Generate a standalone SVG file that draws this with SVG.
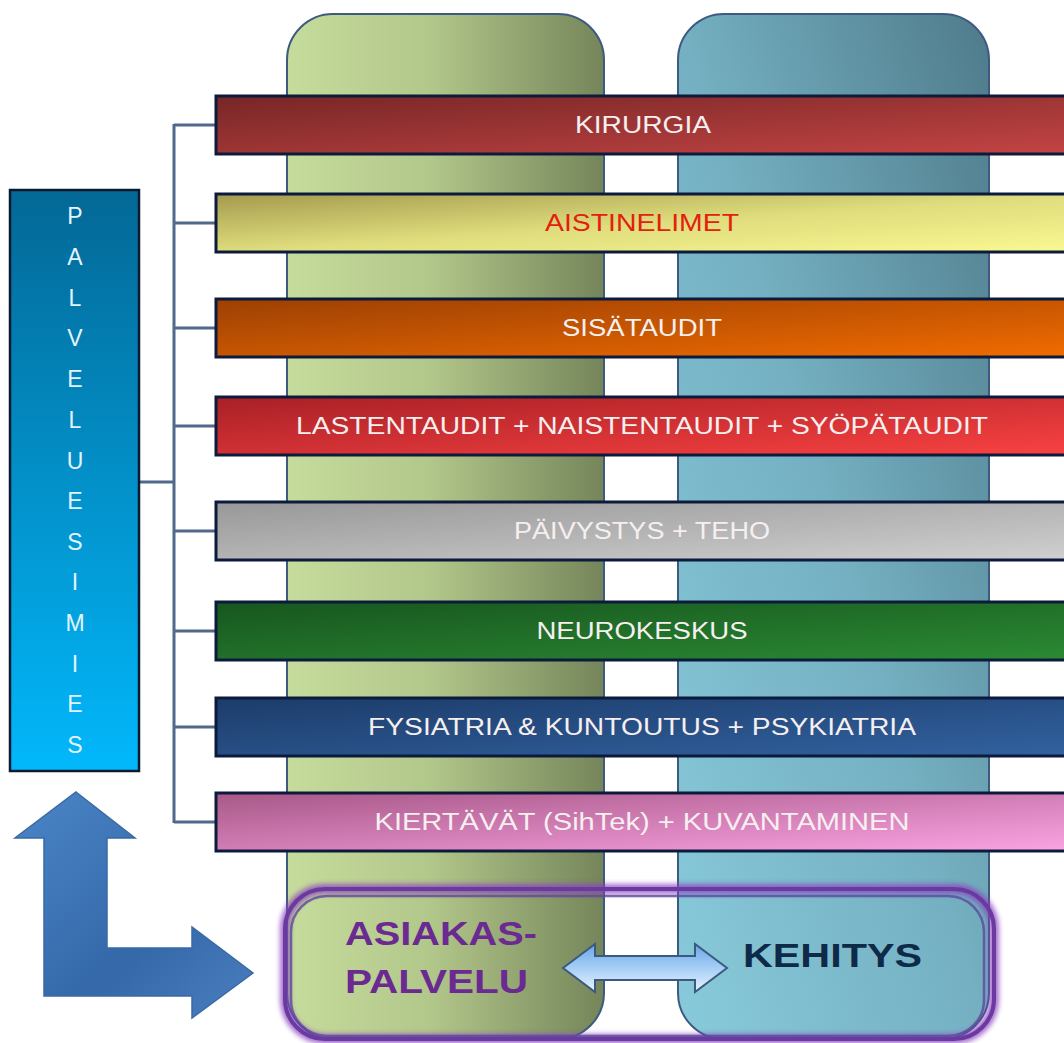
<svg xmlns="http://www.w3.org/2000/svg" width="1064" height="1043" viewBox="0 0 1064 1043">
<defs>
<linearGradient id="gGreen" x1="0" y1="0" x2="1" y2="0">
<stop offset="0" stop-color="#c6dc9c"/><stop offset="0.45" stop-color="#b2c78a"/><stop offset="1" stop-color="#75855a"/>
</linearGradient>
<linearGradient id="gBlue" x1="0" y1="1" x2="1" y2="0">
<stop offset="0" stop-color="#88cadb"/><stop offset="0.5" stop-color="#74b0c1"/><stop offset="1" stop-color="#4f7b8b"/>
</linearGradient>
<linearGradient id="gBox" x1="0" y1="0" x2="0" y2="1">
<stop offset="0" stop-color="#036896"/><stop offset="1" stop-color="#02b8fb"/>
</linearGradient>
<linearGradient id="g1" x1="0" y1="0" x2="1" y2="1"><stop offset="0" stop-color="#772626"/><stop offset="1" stop-color="#c44444"/></linearGradient>
<linearGradient id="g2" x1="0" y1="0" x2="1" y2="1"><stop offset="0" stop-color="#a49a4e"/><stop offset="0.5" stop-color="#dedc7c"/><stop offset="1" stop-color="#fbf992"/></linearGradient>
<linearGradient id="g3" x1="0" y1="0" x2="1" y2="1"><stop offset="0" stop-color="#9c4004"/><stop offset="1" stop-color="#f26c00"/></linearGradient>
<linearGradient id="g4" x1="0" y1="0" x2="1" y2="1"><stop offset="0" stop-color="#a82026"/><stop offset="1" stop-color="#fa4242"/></linearGradient>
<linearGradient id="g5" x1="0" y1="0" x2="1" y2="1"><stop offset="0" stop-color="#989898"/><stop offset="1" stop-color="#d0d0d0"/></linearGradient>
<linearGradient id="g6" x1="0" y1="0" x2="1" y2="1"><stop offset="0" stop-color="#17561f"/><stop offset="1" stop-color="#2b8a33"/></linearGradient>
<linearGradient id="g7" x1="0" y1="0" x2="1" y2="1"><stop offset="0" stop-color="#1c3c6a"/><stop offset="1" stop-color="#3262a0"/></linearGradient>
<linearGradient id="g8" x1="0" y1="0" x2="1" y2="1"><stop offset="0" stop-color="#a85888"/><stop offset="1" stop-color="#fca4e4"/></linearGradient>
<linearGradient id="gArrow" x1="0" y1="0" x2="1" y2="1">
<stop offset="0" stop-color="#4b86c8"/><stop offset="0.6" stop-color="#3468a8"/><stop offset="1" stop-color="#4a7ebe"/>
</linearGradient>
<linearGradient id="gDbl" x1="0" y1="0" x2="0" y2="1">
<stop offset="0" stop-color="#6aa6e6"/><stop offset="0.5" stop-color="#a6cef6"/><stop offset="1" stop-color="#eaf4fe"/>
</linearGradient>
<filter id="glow" x="-5%" y="-10%" width="110%" height="120%">
<feGaussianBlur stdDeviation="2.5"/>
</filter>
<style>
.col{stroke:#3d5b80;stroke-width:2}
.bar{stroke:#0c1a3c;stroke-width:3}
.lbl{font-family:"Liberation Sans",Arial,sans-serif;font-size:23px;fill:#f6efef;text-anchor:middle}
.conn{fill:none;stroke:#51698a;stroke-width:3}
.vt{font-family:"Liberation Sans",Arial,sans-serif;font-size:23px;fill:#e2f4ff;text-anchor:middle}
.big{font-family:"Liberation Sans",Arial,sans-serif;font-size:34px;font-weight:bold}
</style>
</defs>
<rect width="1064" height="1043" fill="#ffffff"/>

<g id="col-green"><rect class="col" x="287" y="14" width="317" height="1025" rx="46" fill="url(#gGreen)"/></g>
<g id="col-blue"><rect class="col" x="678" y="14" width="311" height="1025" rx="46" fill="url(#gBlue)"/></g>

<g id="connectors">
<path class="conn" d="M139,482 H174 M174,124 V823 M174,125 H216 M174,223 H216 M174,328 H216 M174,426 H216 M174,531 H216 M174,631 H216 M174,727 H216 M174,822 H216"/>
</g>

<g id="palveluesimies">
<rect x="10" y="190" width="129" height="581" fill="url(#gBox)" stroke="#0c1a30" stroke-width="2.5"/>
<text class="vt" x="75" y="224">P</text>
<text class="vt" x="75" y="265">A</text>
<text class="vt" x="75" y="306">L</text>
<text class="vt" x="75" y="346">V</text>
<text class="vt" x="75" y="387">E</text>
<text class="vt" x="75" y="428">L</text>
<text class="vt" x="75" y="469">U</text>
<text class="vt" x="75" y="509">E</text>
<text class="vt" x="75" y="550">S</text>
<text class="vt" x="75" y="590">I</text>
<text class="vt" x="75" y="631">M</text>
<text class="vt" x="75" y="672">I</text>
<text class="vt" x="75" y="712">E</text>
<text class="vt" x="75" y="753">S</text>
</g>

<g id="kirurgia"><rect class="bar" x="216" y="96" width="860" height="58" fill="url(#g1)"/><text class="lbl" x="643" y="133" textLength="136" lengthAdjust="spacingAndGlyphs">KIRURGIA</text></g>
<g id="aistinelimet"><rect class="bar" x="216" y="194" width="860" height="58" fill="url(#g2)"/><text class="lbl" x="642" y="231" style="fill:#e4200e" textLength="194" lengthAdjust="spacingAndGlyphs">AISTINELIMET</text></g>
<g id="sisataudit"><rect class="bar" x="216" y="299" width="860" height="58" fill="url(#g3)"/><text class="lbl" x="642" y="336" textLength="160" lengthAdjust="spacingAndGlyphs">SISÄTAUDIT</text></g>
<g id="lastentaudit"><rect class="bar" x="216" y="397" width="860" height="58" fill="url(#g4)"/><text class="lbl" x="642" y="434" textLength="692" lengthAdjust="spacingAndGlyphs">LASTENTAUDIT + NAISTENTAUDIT + SYÖPÄTAUDIT</text></g>
<g id="paivystys"><rect class="bar" x="216" y="502" width="860" height="58" fill="url(#g5)"/><text class="lbl" x="642" y="539" textLength="256" lengthAdjust="spacingAndGlyphs">PÄIVYSTYS + TEHO</text></g>
<g id="neurokeskus"><rect class="bar" x="216" y="602" width="860" height="58" fill="url(#g6)"/><text class="lbl" x="642" y="639" textLength="211" lengthAdjust="spacingAndGlyphs">NEUROKESKUS</text></g>
<g id="fysiatria"><rect class="bar" x="216" y="698" width="860" height="58" fill="url(#g7)"/><text class="lbl" x="642" y="735" textLength="548" lengthAdjust="spacingAndGlyphs">FYSIATRIA &amp; KUNTOUTUS + PSYKIATRIA</text></g>
<g id="kiertavat"><rect class="bar" x="216" y="793" width="860" height="58" fill="url(#g8)"/><text class="lbl" x="642" y="830" textLength="535" lengthAdjust="spacingAndGlyphs">KIERTÄVÄT (SihTek) + KUVANTAMINEN</text></g>

<g id="l-arrow">
<path d="M76,792 L135,838 L107,838 L107,948 L192,948 L192,927 L253,973 L192,1018 L192,996 L44,996 L44,838 L15,838 Z" fill="url(#gArrow)" stroke="#3a6aa6" stroke-width="1.5"/>
</g>

<g id="frame">
<rect x="285" y="889" width="709" height="150" rx="40" fill="none" stroke="#8a40c0" stroke-width="10" opacity="0.75" filter="url(#glow)"/>
<rect x="285" y="889" width="709" height="150" rx="40" fill="none" stroke="#6a3aa0" stroke-width="4"/>
<rect x="291" y="896" width="693" height="140" rx="36" fill="none" stroke="#5a4a9c" stroke-width="2.5" opacity="0.8"/>
</g>

<g id="asiakaspalvelu">
<text class="big" x="345" y="945" fill="#6a2a92" textLength="192" lengthAdjust="spacingAndGlyphs">ASIAKAS-</text>
<text class="big" x="345" y="993" fill="#6a2a92" textLength="183" lengthAdjust="spacingAndGlyphs">PALVELU</text>
</g>

<g id="kehitys">
<text class="big" x="743" y="967" fill="#0e2a48" textLength="179" lengthAdjust="spacingAndGlyphs">KEHITYS</text>
</g>

<g id="dbl-arrow">
<path d="M563,968 L595,944 L595,956 L695,956 L695,944 L727,968 L695,992 L695,980 L595,980 L595,992 Z" fill="url(#gDbl)" stroke="#3a5a80" stroke-width="2"/>
</g>
</svg>
